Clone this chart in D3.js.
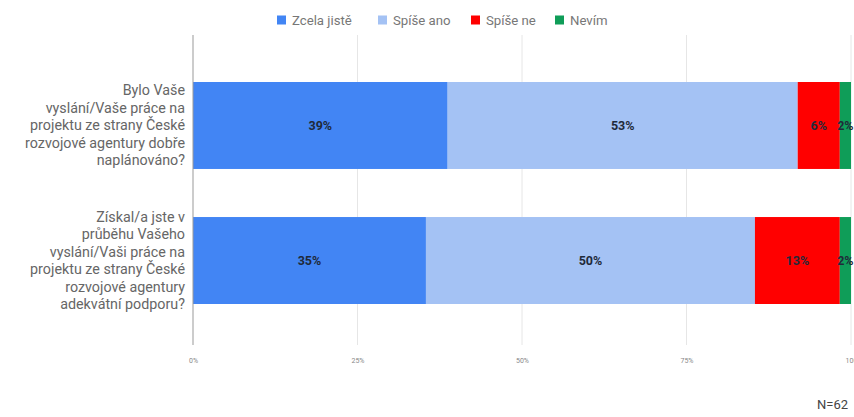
<!DOCTYPE html>
<html>
<head>
<meta charset="utf-8">
<script src="https://cdn.jsdelivr.net/npm/d3@7"></script>
<style>
  body { margin: 0; background: #fff; }
  svg { font-family: Roboto, "Noto Sans", sans-serif; }
</style>
</head>
<body>
<div id="chart"></div>
<script>
// data
var questions = [
  ["Bylo Vaše", "vyslání/Vaše práce na", "projektu ze strany České", "rozvojové agentury dobře", "naplánováno?"],
  ["Získal/a jste v", "průběhu Vašeho", "vyslání/Vaši práce na", "projektu ze strany České", "rozvojové agentury", "adekvátní podporu?"]
];
var seriesNames = ["Zcela jistě", "Spíše ano", "Spíše ne", "Nevím"];
var zcelaJiste = [38.7, 35.4];
var spiseAno = [53.2, 50.0];
var spiseNe = [6.4, 12.9];
var nevim = [1.7, 1.7];
var tickValues = [0, 25, 50, 75, 100];
var tickLabels = ["0%", "25%", "50%", "75%", "100"];
var colors = ["#4285f4", "#a4c2f4", "#ff0000", "#0f9d58"];

var svgWidth = 854;
var svgHeight = 417;
var margin = { top: 35, right: 3, bottom: 72, left: 193 };
var width = svgWidth - margin.left - margin.right;
var height = svgHeight - margin.top - margin.bottom;

var svg = d3.select("#chart")
  .append("svg")
  .attr("width", svgWidth)
  .attr("height", svgHeight);

var chartGroup = svg.append("g")
  .attr("transform", `translate(${margin.left}, ${margin.top})`);

var x = d3.scaleLinear().domain([0, 100]).range([0, width]);
var y = d3.scaleBand()
  .domain(d3.range(questions.length))
  .range([47, 269])
  .paddingInner(0.356)
  .paddingOuter(0);

// gridlines
chartGroup.selectAll(".grid")
  .data(tickValues.slice(1))
  .enter()
  .append("line")
  .attr("x1", d => x(d))
  .attr("x2", d => x(d))
  .attr("y1", 0)
  .attr("y2", 310)
  .attr("stroke", "#e6e6e6")
  .attr("stroke-width", 1);

// stacked data
var rows = questions.map(function(q, i) {
  return [zcelaJiste[i], spiseAno[i], spiseNe[i], nevim[i]];
});
var segs = [];
rows.forEach(function(r, i) {
  var acc = 0;
  r.forEach(function(v, j) {
    segs.push({ row: i, s: j, x0: acc, x1: acc + v, v: v });
    acc += v;
  });
});

chartGroup.selectAll("rect.seg")
  .data(segs)
  .enter()
  .append("rect")
  .attr("class", "seg")
  .attr("x", d => x(d.x0))
  .attr("width", d => x(d.x1) - x(d.x0))
  .attr("y", d => y(d.row))
  .attr("height", y.bandwidth())
  .attr("fill", d => colors[d.s]);

chartGroup.selectAll("text.val")
  .data(segs)
  .enter()
  .append("text")
  .attr("class", "val")
  .attr("x", d => (x(d.x0) + x(d.x1)) / 2)
  .attr("y", d => y(d.row) + y.bandwidth() / 2)
  .attr("dy", "0.35em")
  .attr("text-anchor", "middle")
  .attr("font-size", 12.5)
  .attr("font-weight", "bold")
  .attr("fill", "#1f2a3a")
  .text(d => Math.round(d.v) + "%");

// axis line
chartGroup.append("line")
  .attr("x1", 0).attr("x2", 0)
  .attr("y1", 0).attr("y2", 310)
  .attr("stroke", "#999")
  .attr("stroke-width", 1);

// tick labels
var bottomAxis = d3.axisBottom(x).tickValues(tickValues)
  .tickFormat((d, i) => tickLabels[i]).tickSize(0);
var xAxis = chartGroup.append("g")
  .attr("transform", `translate(0, 320)`)
  .call(bottomAxis);
xAxis.select(".domain").remove();
xAxis.selectAll("text").attr("font-size", 7).attr("fill", "#888")
  .attr("font-family", "Roboto, sans-serif");

// category labels
questions.forEach(function(lines, i) {
  var cy = y(i) + y.bandwidth() / 2;
  var lh = 17.5;
  var t = chartGroup.append("text")
    .attr("text-anchor", "end")
    .attr("font-size", 14.3)
    .attr("fill", "#666");
  lines.forEach(function(l, k) {
    t.append("tspan")
      .attr("x", -8)
      .attr("y", cy + (k - (lines.length - 1) / 2) * lh)
      .attr("dy", "0.35em")
      .text(l);
  });
});

// legend
var legendX = [277, 378, 471, 555];
var legend = svg.append("g").attr("transform", "translate(0, 20)");
seriesNames.forEach(function(n, i) {
  legend.append("rect")
    .attr("x", legendX[i]).attr("y", -4.5)
    .attr("width", 9).attr("height", 9)
    .attr("fill", colors[i]);
  legend.append("text")
    .attr("x", legendX[i] + 15).attr("y", 0)
    .attr("dy", "0.35em")
    .attr("font-size", 13.2)
    .attr("fill", "#777")
    .text(n);
});

svg.append("text")
  .attr("x", 848).attr("y", 409)
  .attr("text-anchor", "end")
  .attr("font-size", 13)
  .attr("fill", "#444")
  .text("N=62");
</script>
</body>
</html>
